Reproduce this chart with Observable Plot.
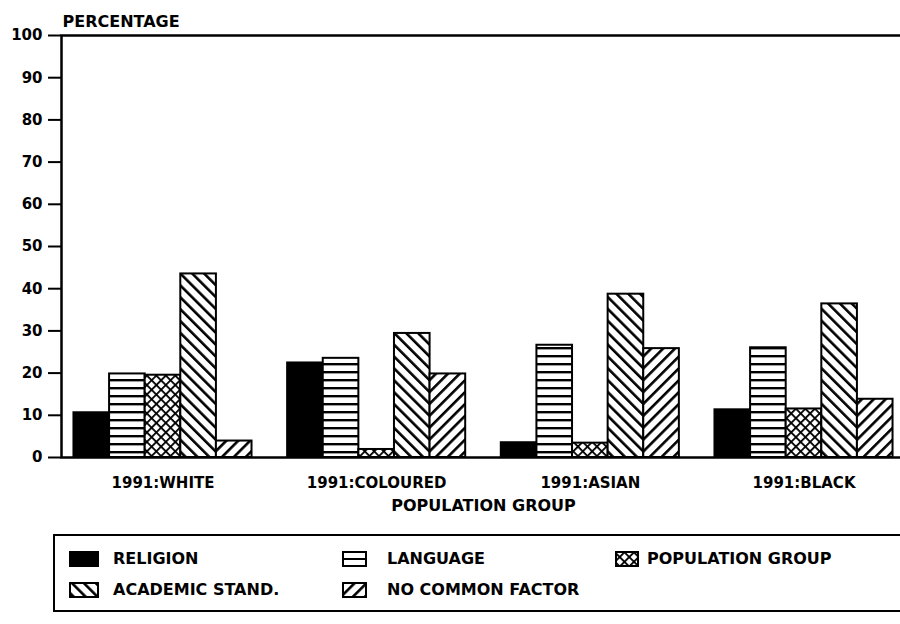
<!DOCTYPE html>
<html><head><meta charset="utf-8">
<script src="https://cdn.jsdelivr.net/npm/d3@7"></script>
<script src="https://cdn.jsdelivr.net/npm/@observablehq/plot@0.6"></script>
<style>
html,body{margin:0;padding:0;background:#fff;overflow:hidden;width:900px;height:624px}
#chart{position:absolute;left:0;top:0}
#legend{position:absolute;left:53px;top:534px;width:900px;height:74px;border:2px solid #000;font:bold 16px "DejaVu Sans";color:#000}
#legend .sw{position:absolute}
#legend .tx{position:absolute;line-height:16px;white-space:nowrap}
</style>
</head><body>
<svg width="0" height="0" style="position:absolute">
  <defs>
    <pattern id="p-lang" patternUnits="userSpaceOnUse" width="8" height="8">
      <rect width="8" height="8" fill="#fff"/>
      <rect y="3" width="8" height="2.4" fill="#000"/>
    </pattern>
    <pattern id="p-pop" patternUnits="userSpaceOnUse" width="6.7" height="6.7" patternTransform="rotate(45)">
      <rect width="6.7" height="6.7" fill="#fff"/>
      <rect x="0" y="0" width="1.8" height="6.7" fill="#000"/>
      <rect x="0" y="0" width="6.7" height="1.8" fill="#000"/>
    </pattern>
    <pattern id="p-acad" patternUnits="userSpaceOnUse" width="8.4" height="8.4" patternTransform="rotate(-45)">
      <rect width="8.4" height="8.4" fill="#fff"/>
      <rect x="0" y="0" width="2.6" height="8.4" fill="#000"/>
    </pattern>
    <pattern id="p-none" patternUnits="userSpaceOnUse" width="8.4" height="8.4" patternTransform="rotate(45)">
      <rect width="8.4" height="8.4" fill="#fff"/>
      <rect x="0" y="0" width="2.6" height="8.4" fill="#000"/>
    </pattern>
    <pattern id="p-lang-key" patternUnits="userSpaceOnUse" width="8" height="16">
      <rect width="8" height="16" fill="#fff"/>
      <rect y="7" width="8" height="2" fill="#000"/>
    </pattern>
  </defs>
</svg>
<div id="chart"></div>
<div id="legend"></div>
<script>
// ---- data ----
const groups = ["1991:WHITE", "1991:COLOURED", "1991:ASIAN", "1991:BLACK"];
const factors = ["RELIGION", "LANGUAGE", "POPULATION GROUP", "ACADEMIC STAND.", "NO COMMON FACTOR"];
const white    = [10.6, 19.8, 19.5, 43.5, 3.9];
const coloured = [22.4, 23.5, 1.9, 29.4, 19.8];
const asian    = [3.5, 26.6, 3.4, 38.7, 25.8];
const black    = [11.3, 26.0, 11.5, 36.4, 13.8];
const yTicks = [0, 10, 20, 30, 40, 50, 60, 70, 80, 90, 100];
const fills = ["#000", "url(#p-lang)", "url(#p-pop)", "url(#p-acad)", "url(#p-none)"];
const keyFills = ["#000", "url(#p-lang-key)", "url(#p-pop)", "url(#p-acad)", "url(#p-none)"];

// ---- build table ----
const rows = [white, coloured, asian, black];
const data = [];
groups.forEach((g, i) => factors.forEach((f, j) => data.push({group: g, factor: f, key: g + "|" + f, value: rows[i][j]})));
const domain = [];
groups.forEach((g, i) => { if (i > 0) domain.push("gap" + i); factors.forEach(f => domain.push(g + "|" + f)); });
const midKeys = groups.map(g => g + "|" + factors[2]);

const plot = Plot.plot({
  width: 905, height: 525,
  marginTop: 35, marginBottom: 68, marginLeft: 61, marginRight: 0,
  style: {fontFamily: "DejaVu Sans", fontWeight: "bold", fontSize: "15px", color: "#000", background: "#fff", overflow: "visible", maxWidth: "none"},
  x: {type: "band", domain, paddingInner: 0, paddingOuter: 0.35, round: false, axis: null},
  y: {domain: [0, 100], axis: null},
  color: {type: "ordinal", domain: factors, range: fills},
  marks: [
    Plot.barY(data, {x: "key", y: "value", fill: "factor", stroke: "#000", strokeWidth: 2}),
    Plot.frame({stroke: "#000", strokeWidth: 2.5}),
    Plot.axisY({ticks: yTicks, tickSize: 13, tickPadding: 6, label: null, tickFormat: d => String(d), strokeWidth: 2, fontSize: 15}),
    Plot.axisX({ticks: midKeys, tickSize: 0, tickPadding: 20, label: null, tickFormat: k => k.split("|")[0], fontSize: 15}),
    Plot.text(["POPULATION GROUP"], {frameAnchor: "bottom", dy: 53, fontSize: 16, text: d => d}),
    Plot.text(["PERCENTAGE"], {frameAnchor: "top-left", dx: 1, dy: -20, textAnchor: "start", fontSize: 16, text: d => d})
  ]
});
document.getElementById("chart").append(plot);

// ---- legend (HTML below the plot) ----
const legendPos = [
  {sx: 14, sw: 30, tx: 58, top: 15},
  {sx: 287, sw: 25, tx: 332, top: 15},
  {sx: 560, sw: 24, tx: 592, top: 15},
  {sx: 14, sw: 30, tx: 58, top: 46},
  {sx: 287, sw: 25, tx: 332, top: 46}
];
const leg = document.getElementById("legend");
factors.forEach((f, i) => {
  const p = legendPos[i];
  const s = document.createElementNS("http://www.w3.org/2000/svg", "svg");
  s.setAttribute("width", p.sw); s.setAttribute("height", 16);
  s.setAttribute("class", "sw");
  s.style.left = p.sx + "px"; s.style.top = p.top + "px";
  s.innerHTML = `<rect x="1" y="1" width="${p.sw - 2}" height="14" fill="${keyFills[i]}" stroke="#000" stroke-width="2"/>`;
  leg.append(s);
  const t = document.createElement("div");
  t.className = "tx"; t.textContent = f;
  t.style.left = p.tx + "px"; t.style.top = p.top + "px";
  leg.append(t);
});
</script>
</body></html>
